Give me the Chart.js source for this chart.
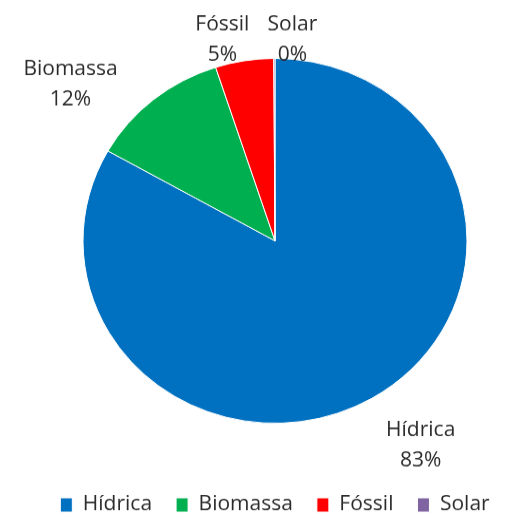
<!DOCTYPE html>
<html>
<head>
<meta charset="utf-8">
<script src="https://cdn.jsdelivr.net/npm/chart.js@4.4.0/dist/chart.umd.min.js"></script>
<style>
  html, body { margin: 0; padding: 0; background: #fff; overflow: hidden; }
  /* the original picture is squashed vertically (pie is an ellipse), so draw taller and scale down */
  #wrap {
    width: 527px; height: 541px;
    transform: scale(1, 0.95); transform-origin: 0 0;
  }
</style>
</head>
<body>
<div id="wrap"><canvas id="pieChart"></canvas></div>
<script>
// chart data
const categories = ["Hídrica", "Biomassa", "Fóssil", "Solar"];
const shares = [83.2, 11.8, 4.9, 0.1];
const sliceColors = ["#0070C0", "#00B050", "#FF0000", "#8064A2"];

// nudge of each label box centre from the slice's outer edge (px, before squash)
const labelNudge = [[49, 50], [-83, -16], [-22, -22], [18, -19]];

const textColor = "#2b2b2b";
const fontFamily = "'Open Sans', sans-serif";

// draws "name / xx%" labels outside the slices
const pieLabels = {
  id: "pieLabels",
  afterDatasetsDraw(chart) {
    const ctx = chart.ctx;
    const meta = chart.getDatasetMeta(0);
    const total = shares.reduce((a, b) => a + b, 0);
    ctx.save();
    ctx.font = "21px " + fontFamily;
    ctx.fillStyle = textColor;
    ctx.textAlign = "center";
    ctx.textBaseline = "middle";
    meta.data.forEach((arc, i) => {
      const p = arc.getProps(["x", "y", "startAngle", "endAngle", "outerRadius"], true);
      const mid = (p.startAngle + p.endAngle) / 2;
      const ex = p.x + Math.cos(mid) * p.outerRadius;
      const ey = p.y + Math.sin(mid) * p.outerRadius;
      const cx = ex + labelNudge[i][0];
      const cy = ey + labelNudge[i][1];
      const pct = Math.round(shares[i] / total * 100) + "%";
      ctx.fillText(categories[i], cx, cy - 16);
      ctx.fillText(pct, cx, cy + 16);
    });
    ctx.restore();
  }
};

const ctx = document.getElementById("pieChart").getContext("2d");
const pieChart = new Chart(ctx, {
  type: "pie",
  data: {
    labels: categories,
    datasets: [{
      data: shares,
      backgroundColor: sliceColors,
      borderColor: "#ffffff",
      borderWidth: 1,
    }],
  },
  options: {
    responsive: true,
    maintainAspectRatio: false,
    animation: false,
    radius: 192,
    layout: {
      padding: { top: 10, bottom: -11, left: 23, right: 0 },
    },
    plugins: {
      legend: {
        position: "bottom",
        labels: {
          boxWidth: 12,
          boxHeight: 15,
          padding: 24,
          color: textColor,
          font: { family: fontFamily, size: 21 },
        },
      },
      tooltip: { enabled: false },
    },
  },
  plugins: [pieLabels],
});
</script>
</body>
</html>
